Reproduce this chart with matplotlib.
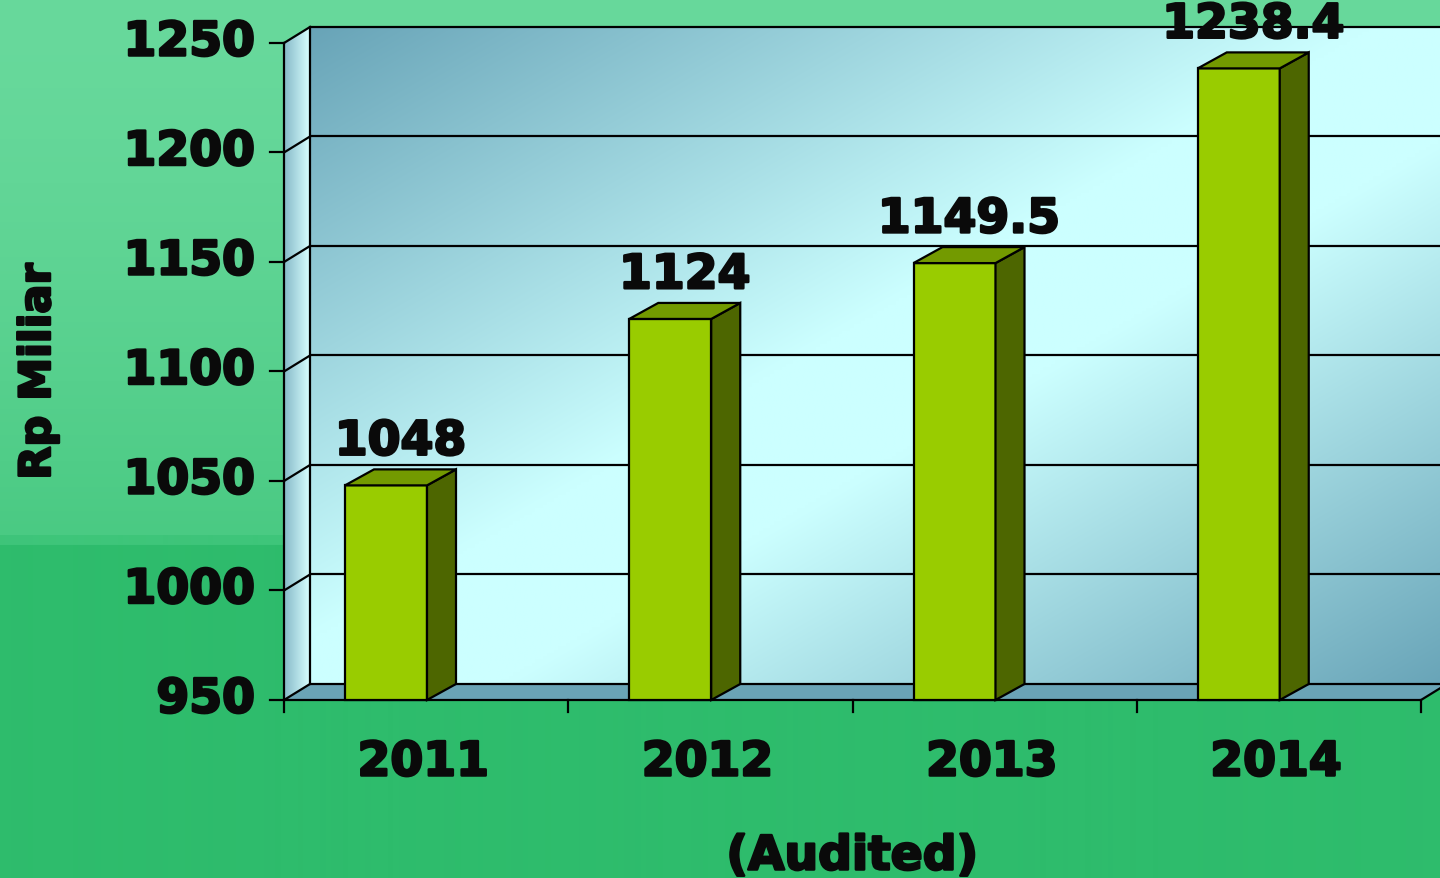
import numpy as np
import matplotlib
matplotlib.use("Agg")
import matplotlib.pyplot as plt
from matplotlib.patches import Polygon, Rectangle
from matplotlib.colors import to_rgb
import matplotlib.patheffects as pe

# ---- data ----
years = ["2011", "2012", "2013", "2014"]
values = [1048, 1124, 1149.5, 1238.4]
value_labels = ["1048", "1124", "1149.5", "1238.4"]
y_ticks = [950, 1000, 1050, 1100, 1150, 1200, 1250]
y_label = "Rp Miliar"
x_note = "(Audited)"

# ---- style ----
W, H = 1440, 879
fig = plt.figure(figsize=(W / 100, H / 100), dpi=100)
ax = fig.add_axes([0, 0, 1, 1])
ax.set_axis_off()

PX_CAT = 284.25   # pixels per category
PX_UNIT = 2.19    # pixels per value unit
X0_PX, Y0_PX = 284, 701
xlim = (-X0_PX / PX_CAT, (W - X0_PX) / PX_CAT)
ylim = (950 - (H - Y0_PX) / PX_UNIT, 950 + Y0_PX / PX_UNIT)
ax.set_xlim(*xlim)
ax.set_ylim(*ylim)

DX = 26 / PX_CAT
DY = 16 / PX_UNIT
BDX = 29 / PX_CAT
ymin, ymax = y_ticks[0], y_ticks[-1]
ncat = len(years)

TXT = dict(fontweight="bold", color="#0A0A0A",
           path_effects=[pe.withStroke(linewidth=1.8, foreground="#0A0A0A")])

# background gradient
top = np.array(to_rgb("#68D99C"))
mid = np.array(to_rgb("#4ACA83"))
band = np.array(to_rgb("#3EC57A"))
low = np.array(to_rgb("#2EBC6C"))
bg = np.zeros((H, 1, 3))
for i in range(H):
    if i < 536:
        t = (i / 536) ** 1.5
        bg[i, 0] = top * (1 - t) + mid * t
    elif i < 546:
        bg[i, 0] = band
    else:
        bg[i, 0] = low
ax.imshow(bg, extent=[xlim[0], xlim[1], ylim[0], ylim[1]], aspect="auto",
          origin="upper", zorder=0, interpolation="bilinear")

# back wall gradient
gw, gh = 300, 200
gx = np.linspace(0, 1, gw)[None, :]
gy = np.linspace(0, 1, gh)[:, None]
s = gx + gy
f = np.clip(np.minimum((s + 0.02) / 0.95, (2.02 - s) / 0.85), 0, 1)
dark = np.array(to_rgb("#66A2B6"))
light = np.array(to_rgb("#CCFFFF"))
img = dark[None, None, :] * (1 - f[..., None]) + light[None, None, :] * f[..., None]
ax.imshow(img, extent=[DX, ncat + DX, ymin + DY, ymax + DY], aspect="auto",
          origin="upper", zorder=1, interpolation="bilinear")

# side wall gradient
sx = np.linspace(0, 1, 50)[None, :]
sdark = np.array(to_rgb("#86B9C8"))
slight = np.array(to_rgb("#D8FFFF"))
simg = sdark[None, None, :] * (1 - sx[..., None]) + slight[None, None, :] * sx[..., None]
simg = np.repeat(simg, 10, axis=0)
side_poly = Polygon([(0, ymin), (DX, ymin + DY), (DX, ymax + DY), (0, ymax)],
                    closed=True, facecolor="none", edgecolor="none")
ax.add_patch(side_poly)
im = ax.imshow(simg, extent=[0, DX, ymin, ymax + DY], aspect="auto",
               origin="upper", zorder=1, interpolation="bilinear")
im.set_clip_path(side_poly)

lw = 1.6
# floor
ax.add_patch(Polygon([(0, ymin), (ncat, ymin), (ncat + DX, ymin + DY), (DX, ymin + DY)],
                     closed=True, facecolor="#6AA4B6", edgecolor="black",
                     linewidth=lw, zorder=2))

# gridlines
for v in y_ticks[1:]:
    ax.plot([DX, ncat + DX], [v + DY, v + DY], color="black", lw=lw, zorder=2,
            solid_capstyle="butt")
    ax.plot([0, DX], [v, v + DY], color="black", lw=lw, zorder=2)
# wall edges
ax.plot([DX, DX], [ymin + DY, ymax + DY], color="black", lw=lw, zorder=2)
ax.plot([0, 0], [ymin, ymax], color="black", lw=lw, zorder=2)

# ticks
for v in y_ticks:
    ax.plot([-14 / PX_CAT, 0], [v, v], color="black", lw=lw, zorder=3)
    ax.text(-29 / PX_CAT, v, str(v), ha="right", va="center",
            fontsize=34, zorder=4, **TXT)
for i in range(ncat + 1):
    ax.plot([i, i], [ymin, ymin - 12 / PX_UNIT], color="black", lw=lw, zorder=3)

# bars
for i, (v, lab) in enumerate(zip(values, value_labels)):
    x0 = i + 61 / PX_CAT
    w = 82 / PX_CAT
    ax.add_patch(Rectangle((x0, ymin), w, v - ymin, facecolor="#99CC00",
                           edgecolor="black", linewidth=lw, zorder=5))
    ax.add_patch(Polygon([(x0 + w, ymin), (x0 + w + BDX, ymin + DY),
                          (x0 + w + BDX, v + DY), (x0 + w, v)], closed=True,
                         facecolor="#4D6600", edgecolor="black", linewidth=lw,
                         zorder=5))
    ax.add_patch(Polygon([(x0, v), (x0 + w, v), (x0 + w + BDX, v + DY),
                          (x0 + BDX, v + DY)], closed=True,
                         facecolor="#739A00", edgecolor="black", linewidth=lw,
                         zorder=5))
    ax.text(x0 + (w + BDX) / 2, v + 14, lab, ha="center", va="baseline",
            fontsize=34, zorder=6, **TXT)

# category labels
for i, yr in enumerate(years):
    ax.text(i + 0.49, ymin - 63 / PX_UNIT, yr, ha="center", va="center",
            fontsize=34, zorder=4, **TXT)

ax.text(ncat / 2, ymin - 157 / PX_UNIT, x_note, ha="center", va="center",
        fontsize=34, zorder=4, **TXT)

ax.text(-246 / PX_CAT, 1100, y_label, ha="center", va="center", rotation=90,
        fontsize=31, zorder=4, **TXT)

fig.savefig("out.png", dpi=100)
